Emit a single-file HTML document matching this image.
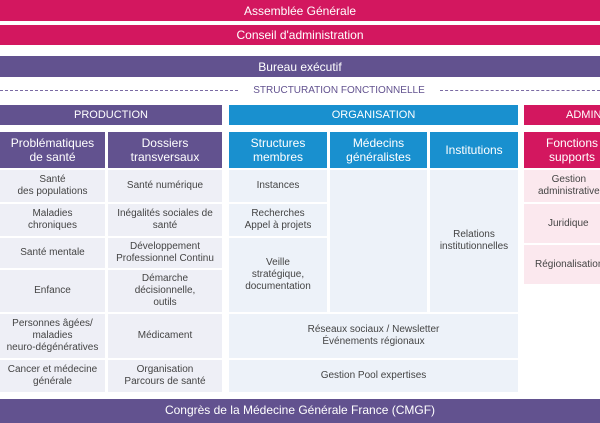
<!DOCTYPE html>
<html><head><meta charset="utf-8"><style>
body{margin:0;width:600px;height:423px;overflow:hidden;background:#fff;position:relative;font-family:"Liberation Sans",sans-serif;}
.b{position:absolute;display:flex;align-items:center;justify-content:center;text-align:center;box-sizing:border-box;}
.pk{background:#d3175f;color:#fff;font-size:12px}
.pu{background:#62528f;color:#fff;font-size:12px}
.bl{background:#1990cf;color:#fff;font-size:12px}
.hd{font-size:12px;line-height:14px}
.c{font-size:10px;color:#444;line-height:12px}
.cp{background:#eeeff6}
.co{background:#edf2f9}
.ca{background:#fbe8ee}
.dash{position:absolute;top:90px;height:0;border-top:1px dashed #7a6aa3;}
</style></head><body>
<div class="b pk" style="left:0;top:0;width:600px;height:21px">Assemblée Générale</div>
<div class="b pk" style="left:0;top:25px;width:600px;height:20px">Conseil d'administration</div>
<div class="b pu" style="left:0;top:56px;width:600px;height:21px">Bureau exécutif</div>
<div class="dash" style="left:0;width:238px"></div>
<div class="dash" style="left:440px;width:160px"></div>
<div class="b" style="left:252px;top:82px;width:174px;height:16px;font-size:10px;color:#62528f;white-space:nowrap">STRUCTURATION FONCTIONNELLE</div>

<div class="b pu" style="left:0;top:105px;width:222px;height:20px;font-size:11px">PRODUCTION</div>
<div class="b bl" style="left:229px;top:105px;width:289px;height:20px;font-size:11px">ORGANISATION</div>
<div class="b pk" style="left:524px;top:105px;width:76px;height:20px;font-size:11px;justify-content:flex-start;padding-left:42px">ADMIN</div>

<div class="b pu hd" style="left:0;top:132px;width:105px;height:36px">Problématiques<br>de santé</div>
<div class="b pu hd" style="left:108px;top:132px;width:114px;height:36px">Dossiers<br>transversaux</div>
<div class="b bl hd" style="left:229px;top:132px;width:98px;height:36px">Structures<br>membres</div>
<div class="b bl hd" style="left:330px;top:132px;width:97px;height:36px">Médecins<br>généralistes</div>
<div class="b bl hd" style="left:430px;top:132px;width:88px;height:36px">Institutions</div>
<div class="b pk hd" style="left:524px;top:132px;width:76px;height:36px;justify-content:flex-start;padding-left:22px">Fonctions<br>supports</div>

<div class="b cp c" style="left:0;top:170px;width:105px;height:32px">Santé<br>des populations</div>
<div class="b cp c" style="left:0;top:204px;width:105px;height:32px">Maladies<br>chroniques</div>
<div class="b cp c" style="left:0;top:238px;width:105px;height:30px">Santé mentale</div>
<div class="b cp c" style="left:0;top:270px;width:105px;height:42px">Enfance</div>
<div class="b cp c" style="left:0;top:314px;width:105px;height:44px">Personnes âgées/<br>maladies<br>neuro-dégénératives</div>
<div class="b cp c" style="left:0;top:360px;width:105px;height:32px">Cancer et médecine<br>générale</div>

<div class="b cp c" style="left:108px;top:170px;width:114px;height:32px">Santé numérique</div>
<div class="b cp c" style="left:108px;top:204px;width:114px;height:32px">Inégalités sociales de<br>santé</div>
<div class="b cp c" style="left:108px;top:238px;width:114px;height:30px">Développement<br>Professionnel Continu</div>
<div class="b cp c" style="left:108px;top:270px;width:114px;height:42px">Démarche<br>décisionnelle,<br>outils</div>
<div class="b cp c" style="left:108px;top:314px;width:114px;height:44px">Médicament</div>
<div class="b cp c" style="left:108px;top:360px;width:114px;height:32px">Organisation<br>Parcours de santé</div>

<div class="b co c" style="left:229px;top:170px;width:98px;height:32px">Instances</div>
<div class="b co c" style="left:229px;top:204px;width:98px;height:32px">Recherches<br>Appel à projets</div>
<div class="b co c" style="left:229px;top:238px;width:98px;height:74px">Veille<br>stratégique,<br>documentation</div>
<div class="b co c" style="left:330px;top:170px;width:97px;height:142px"></div>
<div class="b co c" style="left:430px;top:170px;width:88px;height:142px">Relations<br>institutionnelles</div>
<div class="b co c" style="left:229px;top:314px;width:289px;height:44px">Réseaux sociaux / Newsletter<br>Événements régionaux</div>
<div class="b co c" style="left:229px;top:360px;width:289px;height:32px">Gestion Pool expertises</div>

<div class="b ca c" style="left:524px;top:170px;width:76px;height:32px;justify-content:flex-start;padding-left:14px">Gestion<br>administrative</div>
<div class="b ca c" style="left:524px;top:204px;width:76px;height:39px;justify-content:flex-start;padding-left:24px">Juridique</div>
<div class="b ca c" style="left:524px;top:245px;width:76px;height:39px;justify-content:flex-start;padding-left:11px">Régionalisation</div>

<div class="b pu" style="left:0;top:399px;width:600px;height:24px;font-size:12px;padding-bottom:2px">Congrès de la Médecine Générale France (CMGF)</div>
</body></html>
